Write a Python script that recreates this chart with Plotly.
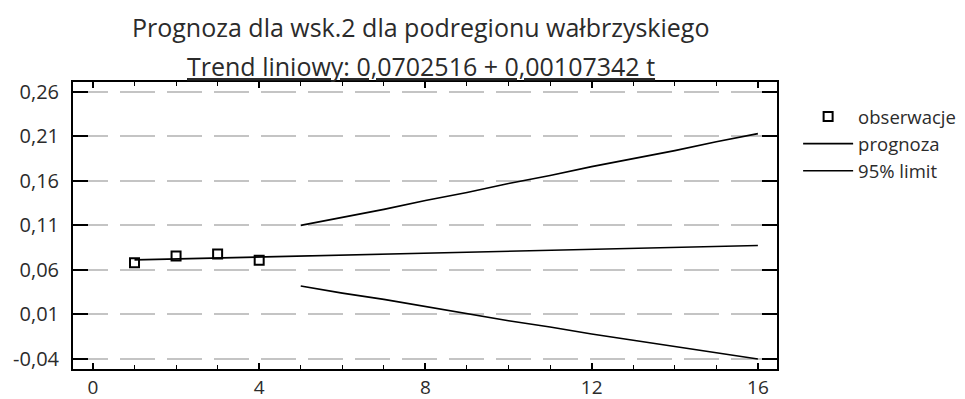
import plotly.graph_objects as go

# Observations
obs_t = [1, 2, 3, 4]
obs_y = [0.0682, 0.0757, 0.0780, 0.0710]

# Forecast (linear trend)
fc_t = [1, 2, 3, 4, 5, 6, 7, 8, 9, 10, 11, 12, 13, 14, 15, 16]
fc_y = [0.0713, 0.0724, 0.0735, 0.0745, 0.0756, 0.0767, 0.0778, 0.0788,
        0.0799, 0.0810, 0.0821, 0.0831, 0.0842, 0.0853, 0.0864, 0.0874]

# 95% limits
lim_t = [5, 6, 7, 8, 9, 10, 11, 12, 13, 14, 15, 16]
upper = [0.110, 0.119, 0.128, 0.138, 0.147, 0.157, 0.166, 0.176, 0.185, 0.194, 0.204, 0.213]
lower = [0.042, 0.034, 0.027, 0.019, 0.011, 0.003, -0.004, -0.012, -0.019, -0.026, -0.033, -0.040]

y_ticks = [-0.04, 0.01, 0.06, 0.11, 0.16, 0.21, 0.26]
y_labels = ["-0,04", "0,01", "0,06", "0,11", "0,16", "0,21", "0,26"]
x_ticks = [0, 4, 8, 12, 16]
x_labels = ["0", "4", "8", "12", "16"]

title_text = "Prognoza dla wsk.2 dla podregionu wałbrzyskiego"
subtitle_text = "Trend liniowy: 0,0702516 + 0,00107342 t"

FONT = "Open Sans"
TXT = "#2b2b2b"

fig = go.Figure()
fig.add_trace(go.Scatter(
    x=obs_t, y=obs_y, mode="markers", name="obserwacje",
    marker=dict(symbol="square-open", size=9, color="black", line=dict(width=2, color="black")),
))
fig.add_trace(go.Scatter(
    x=fc_t, y=fc_y, mode="lines", name="prognoza",
    line=dict(color="black", width=1.6),
))
fig.add_trace(go.Scatter(
    x=lim_t, y=upper, mode="lines", name="95% limit",
    line=dict(color="black", width=1.6), legendgroup="lim",
))
fig.add_trace(go.Scatter(
    x=lim_t, y=lower, mode="lines", name="95% limit", showlegend=False,
    line=dict(color="black", width=1.6), legendgroup="lim",
))

# the page body adds an 8px offset; the figure is sized to fill the rest of the window
fig.update_layout(
    template="none",
    width=957, height=391,
    margin=dict(l=65, r=188, t=74, b=30, autoexpand=False),
    paper_bgcolor="white", plot_bgcolor="white",
    font=dict(family=FONT, color=TXT, size=19),
    legend=dict(x=1.030, y=0.944, xanchor="left", yanchor="top",
                font=dict(size=18.5, family=FONT, color=TXT),
                bgcolor="rgba(0,0,0,0)", tracegroupgap=0, itemwidth=50),
    annotations=[
        dict(text=title_text, xref="paper", yref="paper", x=0.494, y=1.0,
             yshift=55, xanchor="center", yanchor="middle", showarrow=False,
             font=dict(size=25, family=FONT, color=TXT)),
        dict(text="<u>" + subtitle_text + "</u>", xref="paper", yref="paper", x=0.494, y=1.0,
             yshift=16, xanchor="center", yanchor="middle", showarrow=False,
             font=dict(size=25, family=FONT, color=TXT)),
    ],
)

fig.update_xaxes(
    range=[-0.48, 16.46], tickmode="array", tickvals=x_ticks, ticktext=x_labels,
    ticks="inside", ticklen=6, tickwidth=1.5, tickcolor="black",
    minor=dict(dtick=1, ticks="inside", ticklen=4, tickwidth=1.2, tickcolor="black", showgrid=False),
    showline=True, linecolor="black", linewidth=2, mirror="ticks",
    showgrid=False, zeroline=False, tickfont=dict(size=19), automargin=False,
)
fig.update_yaxes(
    range=[-0.0512, 0.271], tickmode="array", tickvals=y_ticks, ticktext=y_labels,
    ticks="inside", ticklen=15, tickwidth=1.8, tickcolor="black",
    showline=True, linecolor="black", linewidth=2, mirror="ticks",
    showgrid=True, gridcolor="#c4c4c4", gridwidth=1.5, griddash="35px,12px",
    zeroline=False, tickfont=dict(size=20), ticklabelstandoff=8, automargin=False,
)

fig.write_html("out.html")
